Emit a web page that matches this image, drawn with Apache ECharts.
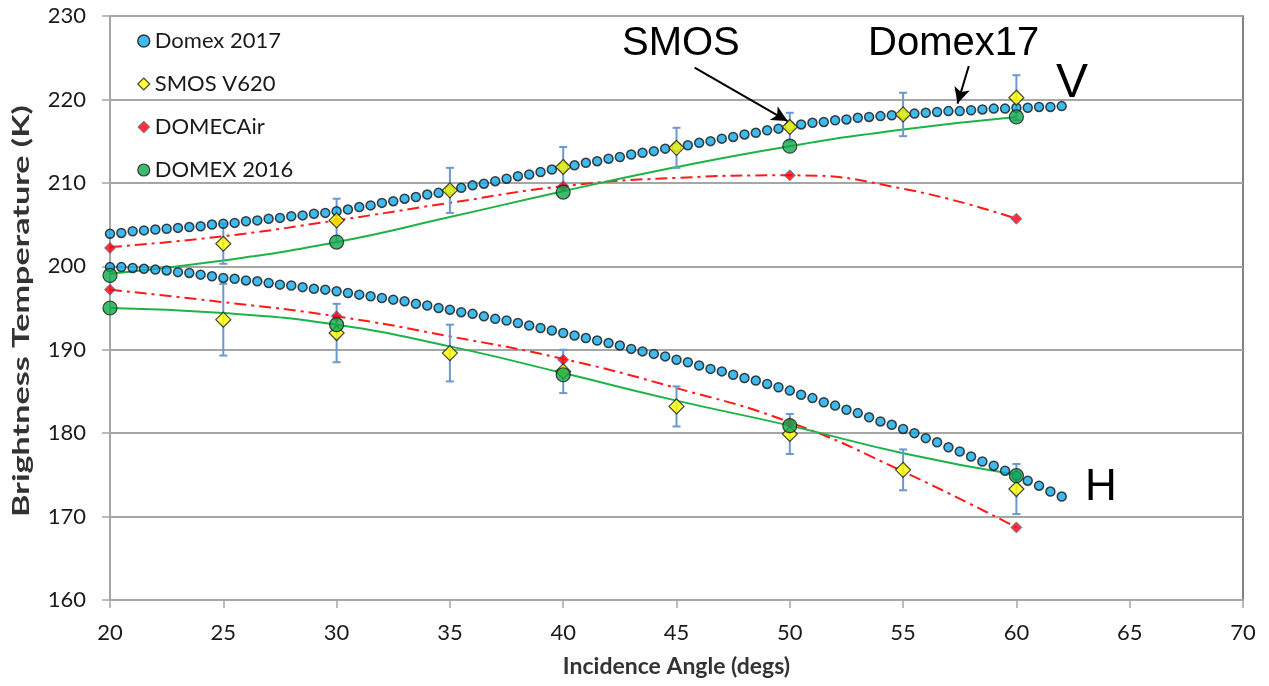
<!DOCTYPE html>
<html>
<head>
<meta charset="utf-8">
<script src="https://cdn.jsdelivr.net/npm/echarts@6/dist/echarts.min.js"></script>
<style>
  html, body { margin: 0; padding: 0; background: #fff; }
  #chart { width: 1269px; height: 686px; }
</style>
</head>
<body>
<div id="chart"></div>
<script>
// Domex 2017 model curves, sampled every 0.5 deg
const domexAngles = [
  20, 20.5, 21, 21.5, 22, 22.5, 23, 23.5, 24, 24.5, 25, 25.5, 26, 26.5, 27, 27.5, 28, 28.5, 29, 29.5,
  30, 30.5, 31, 31.5, 32, 32.5, 33, 33.5, 34, 34.5, 35, 35.5, 36, 36.5, 37, 37.5, 38, 38.5, 39, 39.5,
  40, 40.5, 41, 41.5, 42, 42.5, 43, 43.5, 44, 44.5, 45, 45.5, 46, 46.5, 47, 47.5, 48, 48.5, 49, 49.5,
  50, 50.5, 51, 51.5, 52, 52.5, 53, 53.5, 54, 54.5, 55, 55.5, 56, 56.5, 57, 57.5, 58, 58.5, 59, 59.5,
  60, 60.5, 61, 61.5, 62
];
const domex17V = [
  203.9, 204.0, 204.2, 204.3, 204.4, 204.5, 204.6, 204.7, 204.8, 205.0, 205.1, 205.2, 205.4, 205.5, 205.7, 205.8, 206.0, 206.1, 206.3, 206.4,
  206.6, 206.8, 207.1, 207.3, 207.6, 207.8, 208.1, 208.3, 208.6, 208.8, 209.1, 209.4, 209.7, 209.9, 210.2, 210.5, 210.8, 211.0, 211.3, 211.6,
  211.9, 212.1, 212.4, 212.6, 212.9, 213.1, 213.4, 213.6, 213.8, 214.1, 214.3, 214.5, 214.8, 215.0, 215.3, 215.5, 215.8, 216.0, 216.3, 216.5,
  216.8, 217.0, 217.2, 217.3, 217.5, 217.6, 217.8, 217.9, 218.0, 218.1, 218.2, 218.3, 218.4, 218.5, 218.6, 218.6, 218.7, 218.8, 218.9, 218.9,
  219.0, 219.0, 219.1, 219.1, 219.2
];
const domex17H = [
  199.9, 199.9, 199.8, 199.7, 199.6, 199.5, 199.3, 199.2, 199.0, 198.8, 198.6, 198.5, 198.3, 198.2, 198.0, 197.8, 197.7, 197.5, 197.3, 197.2,
  197.0, 196.8, 196.6, 196.4, 196.2, 196.0, 195.8, 195.5, 195.3, 195.0, 194.8, 194.5, 194.3, 194.0, 193.7, 193.5, 193.2, 192.9, 192.6, 192.3,
  192.0, 191.7, 191.4, 191.1, 190.8, 190.5, 190.1, 189.8, 189.5, 189.2, 188.8, 188.5, 188.1, 187.7, 187.4, 187.0, 186.6, 186.3, 185.9, 185.5,
  185.1, 184.6, 184.2, 183.7, 183.3, 182.8, 182.4, 181.9, 181.4, 181.0, 180.5, 180.0, 179.4, 178.9, 178.3, 177.8, 177.2, 176.6, 176.1, 175.5,
  174.9, 174.3, 173.7, 173.0, 172.4
];

// SMOS V620 with error bars
const smosAngles = [25, 30, 35, 40, 45, 50, 55, 60];
const smosV = [202.7, 205.5, 209.1, 211.9, 214.2, 216.7, 218.2, 220.2];
const smosVErr = [2.4, 2.6, 2.7, 2.4, 2.4, 1.7, 2.6, 2.7];
const smosH = [193.6, 192.0, 189.6, 187.4, 183.2, 179.9, 175.6, 173.3];
const smosHErr = [4.3, 3.5, 3.4, 2.6, 2.4, 2.4, 2.45, 3.0];

// DOMECAir and DOMEX 2016 (every 10 deg)
const campAngles = [20, 30, 40, 50, 60];
const domecairV = [202.2, 205.4, 209.6, 210.9, 205.7];
const domecairH = [197.2, 194.0, 188.8, 181.2, 168.7];
const domex16V = [198.9, 202.9, 208.9, 214.4, 217.9];
const domex16H = [195.0, 193.0, 187.0, 180.9, 174.9];

// polynomial trend lines (read every 5 deg)
const fitAngles = [20, 25, 30, 35, 40, 45, 50, 55, 60];
const domecairFitV = [202.3, 203.6, 205.5, 207.6, 209.6, 210.6, 210.9, 209.3, 205.7];
const domecairFitH = [197.2, 195.7, 194.0, 191.6, 188.9, 185.4, 181.3, 175.4, 168.7];
const domex16FitV = [199.1, 200.7, 202.9, 205.9, 209.0, 211.9, 214.4, 216.4, 217.9];
const domex16FitH = [195.0, 194.4, 193.0, 190.4, 187.2, 183.9, 180.9, 177.6, 175.0];

const zip = (xs, ys) => xs.map((x, i) => [x, ys[i]]);
const errData = (ys, es) => smosAngles.map((x, i) => [x, ys[i] - es[i], ys[i] + es[i]]);

const FONT = 'Lato';
const chart = echarts.init(document.getElementById('chart'));

function renderErrorBar(params, api) {
  const x = api.value(0);
  const lo = api.coord([x, api.value(1)]);
  const hi = api.coord([x, api.value(2)]);
  const style = { stroke: '#6a98d0', lineWidth: 2 };
  const cap = 4;
  return {
    type: 'group',
    children: [
      { type: 'line', shape: { x1: lo[0], y1: lo[1], x2: hi[0], y2: hi[1] }, style },
      { type: 'line', shape: { x1: lo[0] - cap, y1: lo[1], x2: lo[0] + cap, y2: lo[1] }, style },
      { type: 'line', shape: { x1: hi[0] - cap, y1: hi[1], x2: hi[0] + cap, y2: hi[1] }, style }
    ]
  };
}

const dotStyle = { color: '#10a8e8', borderColor: '#151515', borderWidth: 1.5 };
const smosStyle = { color: '#ffff00', borderColor: '#1a1a1a', borderWidth: 1.2 };
const airStyle = { color: '#ff0000', borderColor: '#4a74c8', borderWidth: 1 };
const d16Style = { color: '#0fa84a', borderColor: '#1a1a1a', borderWidth: 1.2 };

function fitLine(name, data, color, type) {
  return {
    name, type: 'line', data, smooth: true, symbol: 'none', z: 2,
    lineStyle: { color, width: 2, type }, silent: true
  };
}

const option = {
  animation: false,
  backgroundColor: '#ffffff',
  grid: {
    left: 110, right: 26, top: 16, bottom: 86,
    show: true, borderColor: '#5a5a5a', borderWidth: 1.5
  },
  legend: {
    data: [
      { name: 'Domex 2017', icon: 'circle', itemStyle: dotStyle },
      { name: 'SMOS V620', icon: 'diamond', itemStyle: smosStyle },
      { name: 'DOMECAir', icon: 'diamond', itemStyle: airStyle },
      { name: 'DOMEX 2016', icon: 'circle', itemStyle: d16Style }
    ],
    orient: 'vertical',
    left: 132, top: 25,
    itemWidth: 12, itemHeight: 12, itemGap: 21,
    textStyle: { fontFamily: FONT, fontSize: 22, color: '#1a1a1a' }
  },
  xAxis: {
    type: 'value', min: 20, max: 70, interval: 5,
    name: 'Incidence Angle (degs)', nameLocation: 'middle', nameGap: 55,
    nameTextStyle: { fontFamily: FONT, fontSize: 23, fontWeight: 'bold', color: '#333' },
    axisLine: { show: true, lineStyle: { color: '#a6a6a6', width: 2 } },
    axisTick: { show: true, length: 8, lineStyle: { color: '#a6a6a6', width: 1.5 } },
    axisLabel: { fontFamily: FONT, fontSize: 22, color: '#1a1a1a', margin: 22 },
    splitLine: { show: false }
  },
  yAxis: {
    type: 'value', min: 160, max: 230, interval: 10,
    axisLine: { show: true, lineStyle: { color: '#a6a6a6', width: 2 } },
    axisTick: { show: true, length: 8, lineStyle: { color: '#a6a6a6', width: 1.5 } },
    axisLabel: { fontFamily: FONT, fontSize: 22, color: '#1a1a1a', margin: 24 },
    splitLine: { show: true, lineStyle: { color: '#a6a6a6', width: 2 } }
  },
  graphic: [
    {
      type: 'text', x: 22, y: 311, rotation: Math.PI / 2, scaleX: 1.55,
      style: {
        text: 'Brightness Temperature (K)', font: 'bold 22px Lato', fill: '#333',
        align: 'center', verticalAlign: 'middle'
      }
    },
    { type: 'text', left: 622, top: 24, style: { text: 'SMOS', font: '40px "Liberation Sans"', fill: '#000' } },
    { type: 'text', left: 868, top: 24, style: { text: 'Domex17', font: '40px "Liberation Sans"', fill: '#000' } },
    { type: 'text', left: 1056, top: 60, style: { text: 'V', font: '48px "Liberation Sans"', fill: '#000' } },
    { type: 'text', left: 1085, top: 466, style: { text: 'H', font: '44px "Liberation Sans"', fill: '#000' } }
  ],
  series: [
    fitLine('DOMECAir fit V', zip(fitAngles, domecairFitV), '#ff1a1a', [12, 5, 3, 5]),
    fitLine('DOMECAir fit H', zip(fitAngles, domecairFitH), '#ff1a1a', [12, 5, 3, 5]),
    fitLine('DOMEX 2016 fit V', zip(fitAngles, domex16FitV), '#1db347', 'solid'),
    fitLine('DOMEX 2016 fit H', zip(fitAngles, domex16FitH), '#1db347', 'solid'),
    {
      name: 'SMOS err V', type: 'custom', renderItem: renderErrorBar, z: 3,
      data: errData(smosV, smosVErr), encode: { x: 0, y: [1, 2] }, silent: true
    },
    {
      name: 'SMOS err H', type: 'custom', renderItem: renderErrorBar, z: 3,
      data: errData(smosH, smosHErr), encode: { x: 0, y: [1, 2] }, silent: true
    },
    {
      name: 'Domex 2017', type: 'scatter', symbol: 'circle', symbolSize: 9, z: 4,
      data: zip(domexAngles, domex17V), itemStyle: dotStyle,
      markLine: {
        silent: true, symbol: ['none', 'arrow'], symbolSize: [12, 16],
        lineStyle: { color: '#000', width: 2, type: 'solid' },
        label: { show: false },
        data: [
          [{ coord: [45.8, 223.8] }, { coord: [49.9, 217.4] }],
          [{ coord: [57.9, 224.0] }, { coord: [57.4, 219.5] }]
        ]
      }
    },
    {
      name: 'Domex 2017', type: 'scatter', symbol: 'circle', symbolSize: 9, z: 4,
      data: zip(domexAngles, domex17H), itemStyle: dotStyle
    },
    {
      name: 'DOMECAir', type: 'scatter', symbol: 'diamond', symbolSize: 11, z: 5,
      data: zip(campAngles, domecairV), itemStyle: airStyle
    },
    {
      name: 'DOMECAir', type: 'scatter', symbol: 'diamond', symbolSize: 11, z: 5,
      data: zip(campAngles, domecairH), itemStyle: airStyle
    },
    {
      name: 'SMOS V620', type: 'scatter', symbol: 'diamond', symbolSize: 15, z: 6,
      data: zip(smosAngles, smosV), itemStyle: smosStyle
    },
    {
      name: 'SMOS V620', type: 'scatter', symbol: 'diamond', symbolSize: 15, z: 6,
      data: zip(smosAngles, smosH), itemStyle: smosStyle
    },
    {
      name: 'DOMEX 2016', type: 'scatter', symbol: 'circle', symbolSize: 14, z: 6,
      data: zip(campAngles, domex16V), itemStyle: d16Style
    },
    {
      name: 'DOMEX 2016', type: 'scatter', symbol: 'circle', symbolSize: 14, z: 6,
      data: zip(campAngles, domex16H), itemStyle: d16Style
    }
  ]
};

chart.setOption(option);
</script>
</body>
</html>
